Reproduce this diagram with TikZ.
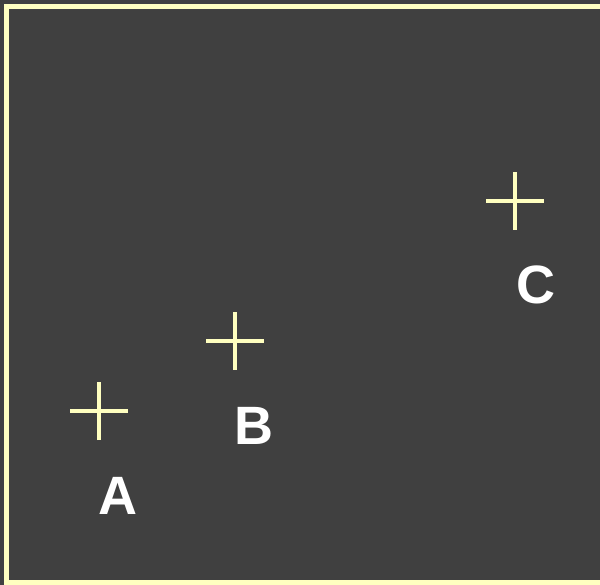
\documentclass[tikz,border=0pt]{standalone}
\usepackage{fontspec}
\setmainfont{Liberation Sans}
\definecolor{bgdark}{HTML}{404040}
\definecolor{cream}{HTML}{FFFFC0}

\begin{document}
\begin{tikzpicture}[x=1pt,y=-1pt,
    cross/.style={cream,line width=4pt},
    lbl/.style={text=white,font=\fontsize{54}{54}\selectfont\bfseries,inner sep=0pt}]
    \useasboundingbox (0,0) rectangle (600,585);
    \fill[bgdark] (0,0) rectangle (600,585);
    \draw[cream,line width=5.5pt] (6.5,6.5) rectangle (620,583);

    \coordinate (a) at (99,411);
    \coordinate (b) at (235,341);
    \coordinate (c) at (515,201);

%   crosses
    \draw[cross] ([xshift=-29pt]a) -- ([xshift=29pt]a);
    \draw[cross] ([yshift=-29pt]a) -- ([yshift=29pt]a);
    \draw[cross] ([xshift=-29pt]b) -- ([xshift=29pt]b);
    \draw[cross] ([yshift=-29pt]b) -- ([yshift=29pt]b);
    \draw[cross] ([xshift=-29pt]c) -- ([xshift=29pt]c);
    \draw[cross] ([yshift=-29pt]c) -- ([yshift=29pt]c);

    \node[lbl] (la) at (118,496) {A};
    \node[lbl] (lb) at (254,426) {B};
    \node[lbl] (lc) at (536,285) {C};
\end{tikzpicture}
\end{document}
